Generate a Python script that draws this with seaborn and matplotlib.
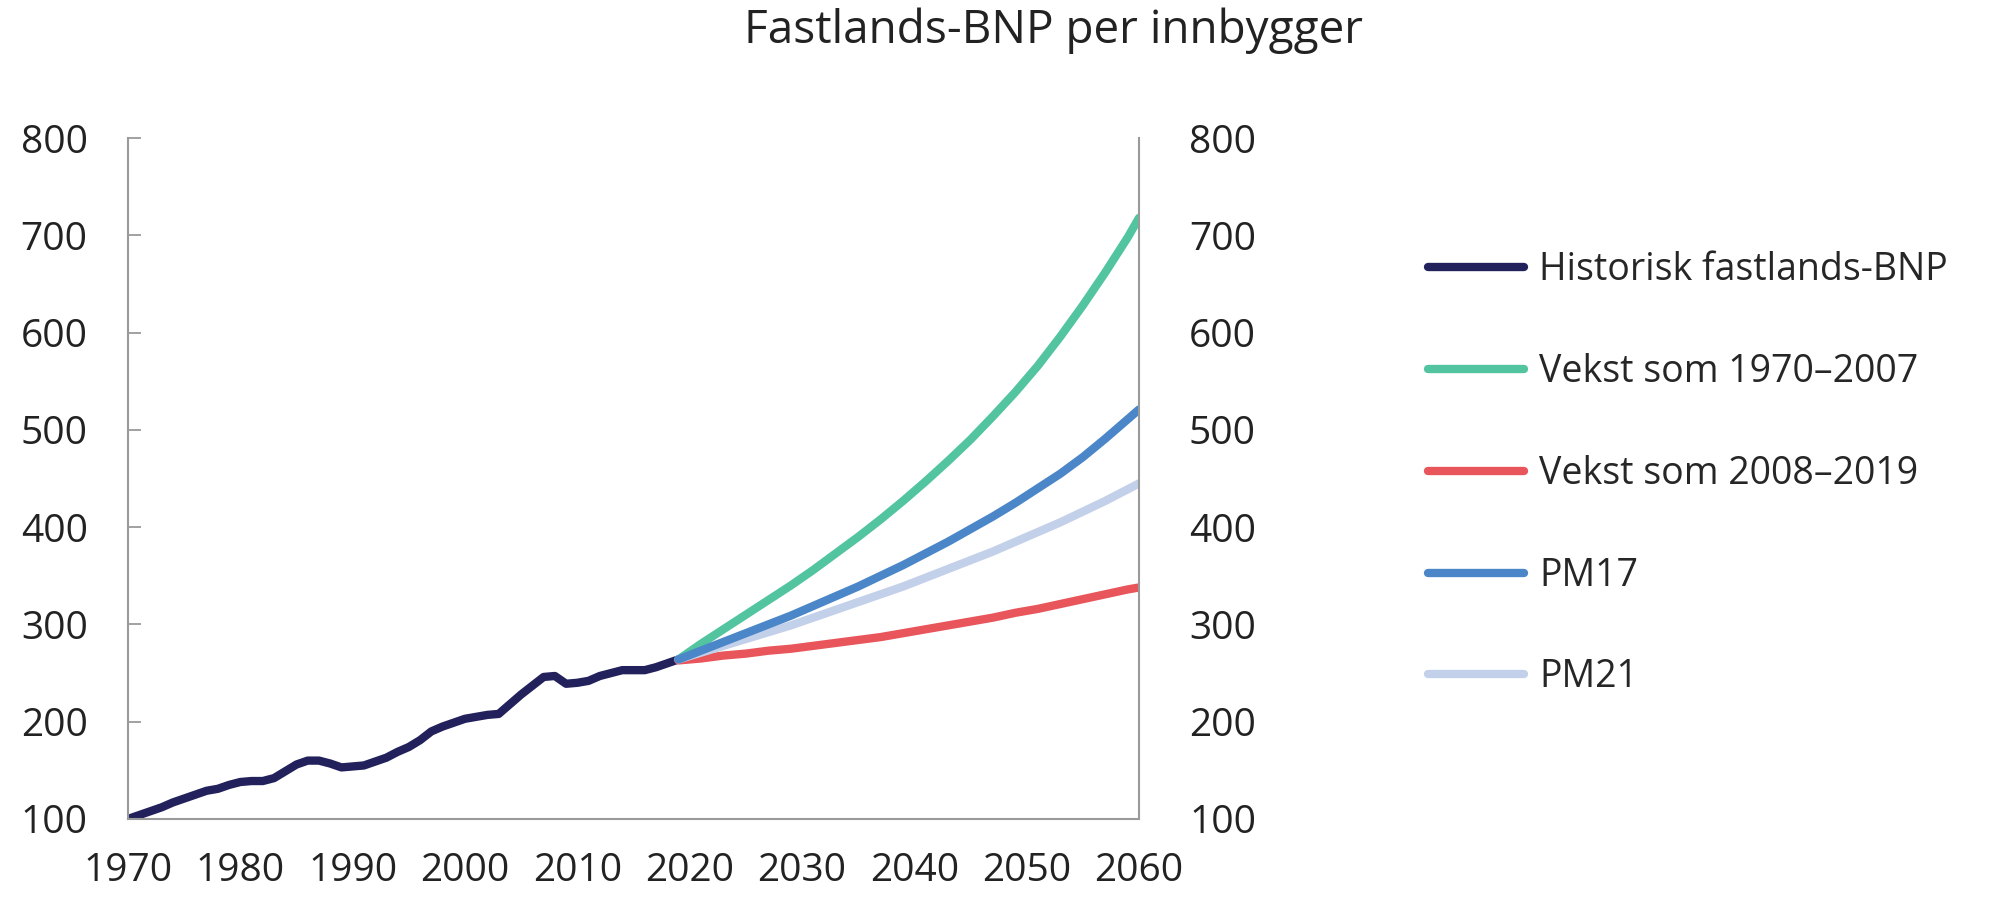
import pandas as pd
import seaborn as sns
import matplotlib.pyplot as plt

# historisk fastlands-BNP per innbygger, indeks 1970=100
hist_years = list(range(1970, 2020))
hist_values = [100, 104, 108, 112, 117, 121, 125, 129, 131, 135,
               138, 139, 139, 142, 149, 156, 160, 160, 157, 153,
               154, 155, 159, 163, 169, 174, 181, 190, 195, 199,
               203, 205, 207, 208, 218, 228, 237, 246, 247, 239,
               240, 242, 247, 250, 253, 253, 253, 256, 260, 264]

# framskrivinger, lest av figuren
proj_years = list(range(2019, 2060, 2)) + [2060]
vekst_70_07 = [264, 280, 295, 310, 325, 340, 356, 373, 390, 408, 427,
               447, 468, 490, 514, 539, 566, 596, 628, 662, 698, 718]
vekst_08_19 = [263, 265, 268, 270, 273, 275, 278, 281, 284, 287, 291,
               295, 299, 303, 307, 312, 316, 321, 326, 331, 336, 338]
pm17 = [264, 273, 282, 291, 300, 309, 319, 329, 339, 350, 361,
        373, 385, 398, 411, 425, 440, 455, 472, 491, 511, 521]
pm21 = [264, 271, 278, 285, 292, 299, 307, 315, 323, 331, 339,
        348, 357, 366, 375, 385, 395, 405, 416, 427, 439, 445]

labels = ["Historisk fastlands-BNP", "Vekst som 1970\u20132007",
          "Vekst som 2008\u20132019", "PM17", "PM21"]
colors = ["#22215B", "#52C4A0", "#E8555B", "#4A86C8", "#C2D0EA"]
yticks = [100, 200, 300, 400, 500, 600, 700, 800]
xticks = list(range(1970, 2061, 10))

sns.set_style("white")
plt.rcParams['font.family'] = ['Open Sans', 'DejaVu Sans']

fig = plt.figure(figsize=(20, 8.97), dpi=100)
ax = fig.add_axes([0.064, 0.087, 0.5055, 0.759])

lw = 6
sns.lineplot(x=hist_years, y=hist_values, color=colors[0], lw=lw, label=labels[0], ax=ax)
sns.lineplot(x=proj_years, y=vekst_70_07, color=colors[1], lw=lw, label=labels[1], ax=ax)
sns.lineplot(x=proj_years, y=vekst_08_19, color=colors[2], lw=lw, label=labels[2], ax=ax)
sns.lineplot(x=proj_years, y=pm21, color=colors[4], lw=lw, label=labels[4], ax=ax)
sns.lineplot(x=proj_years, y=pm17, color=colors[3], lw=lw, label=labels[3], ax=ax)
for line in ax.get_lines():
    line.set_solid_capstyle('round')
    line.set_solid_joinstyle('round')

ax.set_xlim(1970, 2060)
ax.set_ylim(100, 800)
ax.set_xticks(xticks)
ax.set_yticks(yticks)

spine_col = "#9a9a9a"
for s in ["left", "right", "bottom"]:
    ax.spines[s].set_visible(True)
    ax.spines[s].set_color(spine_col)
    ax.spines[s].set_linewidth(1.5)
ax.spines["top"].set_visible(False)

ax.tick_params(axis='x', length=0, pad=24, labelsize=28, labelcolor="#222222")
ax.tick_params(axis='y', direction='in', length=9, width=1.3, color=spine_col,
               left=True, right=True, pad=29, labelsize=28, labelcolor="#222222")

ax2 = ax.twinx()
ax2.set_ylim(100, 800)
ax2.set_yticks(yticks)
ax2.tick_params(axis='y', direction='in', length=0, pad=36, labelsize=28, labelcolor="#222222")
for s in ax2.spines.values():
    s.set_visible(False)

handles, labs = ax.get_legend_handles_labels()
order = [labs.index(l) for l in labels]
ax.legend_.remove()
fig.legend([handles[i] for i in order], [labs[i] for i in order],
           loc='center left', bbox_to_anchor=(0.714, 0.4716), frameon=False,
           fontsize=27, handlelength=2.55, handletextpad=0.42, labelspacing=1.7,
           borderpad=0, borderaxespad=0)

fig.text(0.527, 0.966, "Fastlands-BNP per innbygger", ha='center', va='center',
         fontsize=33, color="#222222")

fig.savefig("out.png", dpi=100, facecolor="white")
